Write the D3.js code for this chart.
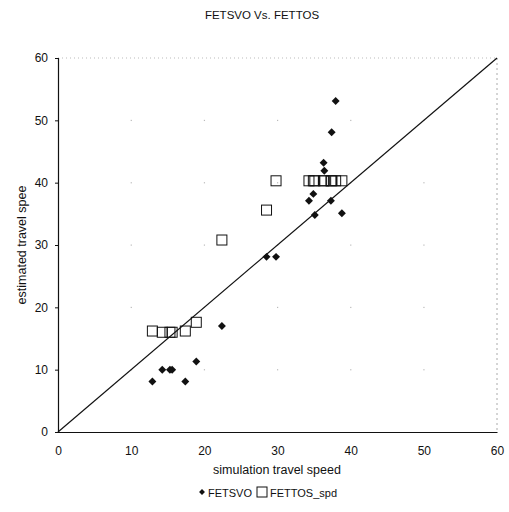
<!DOCTYPE html>
<html><head><meta charset="utf-8">
<script src="https://cdn.jsdelivr.net/npm/d3@7"></script>
<style>body{margin:0;background:#fff;} text{font-family:"Liberation Sans",Arial,sans-serif;fill:#111;}</style>
</head><body>
<svg id="c" width="509" height="512"></svg>
<script>
const simSpeed = [12.9, 14.25, 15.3, 15.6, 17.4, 18.9, 22.4, 28.5, 29.8, 34.3, 34.9, 35.1, 36.3, 36.4, 37.3, 37.4, 37.95, 38.8];
const fetsvo   = [8.1, 10.0, 10.0, 10.0, 8.1, 11.3, 17.0, 28.1, 28.1, 37.1, 38.2, 34.8, 43.2, 41.9, 37.1, 48.1, 53.1, 35.1];
const fettos   = [16.2, 16.0, 16.0, 16.0, 16.2, 17.6, 30.8, 35.6, 40.3, 40.3, 40.3, 40.3, 40.3, 40.3, 40.3, 40.3, 40.3, 40.3];
const xTicks = [0, 10, 20, 30, 40, 50, 60];
const yTicks = [0, 10, 20, 30, 40, 50, 60];
const seriesNames = ["FETSVO", "FETTOS_spd"];

const svg = d3.select("#c");
const x = d3.scaleLinear().domain([0, 60]).range([58, 497]);
const y = d3.scaleLinear().domain([0, 60]).range([432, 58]);

// title
svg.append("text").attr("x", 262).attr("y", 19).attr("text-anchor", "middle")
  .style("font-size", "11.5px").text("FETSVO Vs. FETTOS");

// faint frame (top/right)
svg.append("line").attr("x1", x(0)).attr("x2", x(60)).attr("y1", y(60)).attr("y2", y(60))
  .attr("stroke", "#bbb").attr("stroke-width", 1).attr("stroke-dasharray", "1,3");
svg.append("line").attr("x1", x(60)).attr("x2", x(60)).attr("y1", y(60)).attr("y2", y(0))
  .attr("stroke", "#aaa").attr("stroke-width", 1).attr("stroke-dasharray", "2,3");

// faint grid dots at intersections
const grid = [];
xTicks.slice(1, -1).forEach(a => yTicks.slice(1, -1).forEach(b => grid.push([a, b])));
svg.append("g").selectAll("rect").data(grid).join("rect")
  .attr("x", d => x(d[0]) - 0.5).attr("y", d => y(d[1]) - 0.5)
  .attr("width", 1.2).attr("height", 1.2).attr("fill", "#bbb");

// axes
const xAxis = d3.axisBottom(x).tickValues(xTicks).tickSize(0).tickPadding(14);
const yAxis = d3.axisLeft(y).tickValues(yTicks).tickSize(3).tickPadding(7);
const gx = svg.append("g").attr("transform", `translate(0,${y(0)})`).call(xAxis);
const gy = svg.append("g").attr("transform", `translate(${x(0)},0)`).call(yAxis);
[gx, gy].forEach(g => {
  g.select(".domain").attr("stroke", "#111").attr("stroke-width", 1.2);
  g.selectAll("text").style("font-size", "12px").style("font-family", "'Liberation Sans',Arial,sans-serif").attr("fill", "#111");
  g.selectAll("line").attr("stroke", "#111");
});

// axis labels
svg.append("text").attr("x", 277).attr("y", 474).attr("text-anchor", "middle")
  .style("font-size", "12.5px").text("simulation travel speed");
svg.append("text").attr("transform", `translate(26,${(y(0)+y(60))/2}) rotate(-90)`).attr("text-anchor", "middle")
  .style("font-size", "12.5px").text("estimated travel spee");

// diagonal y = x
svg.append("line").attr("x1", x(0)).attr("y1", y(0)).attr("x2", x(60)).attr("y2", y(60))
  .attr("stroke", "#111").attr("stroke-width", 1.2);

// squares
const sq = 10;
svg.append("g").selectAll("rect").data(simSpeed.map((s, i) => [s, fettos[i]])).join("rect")
  .attr("x", d => x(d[0]) - sq / 2).attr("y", d => y(d[1]) - sq / 2)
  .attr("width", sq).attr("height", sq).attr("fill", "none").attr("stroke", "#111").attr("stroke-width", 1);

// diamonds
const diamond = d3.symbol().type(d3.symbolDiamond2).size(40);
svg.append("g").selectAll("path").data(simSpeed.map((s, i) => [s, fetsvo[i]])).join("path")
  .attr("transform", d => `translate(${x(d[0])},${y(d[1])})`).attr("d", diamond).attr("fill", "#111");

// legend
const lg = svg.append("g").attr("transform", "translate(0,492)");
lg.append("path").attr("transform", "translate(202,0)").attr("d", d3.symbol().type(d3.symbolDiamond2).size(22)).attr("fill", "#111");
lg.append("text").attr("x", 208).attr("y", 4.5).style("font-size", "11px").text(seriesNames[0]);
lg.append("rect").attr("x", 257).attr("y", -5).attr("width", 10).attr("height", 10).attr("fill", "none").attr("stroke", "#111");
lg.append("text").attr("x", 270).attr("y", 4.5).style("font-size", "11px").text(seriesNames[1]);
</script>
</body></html>
